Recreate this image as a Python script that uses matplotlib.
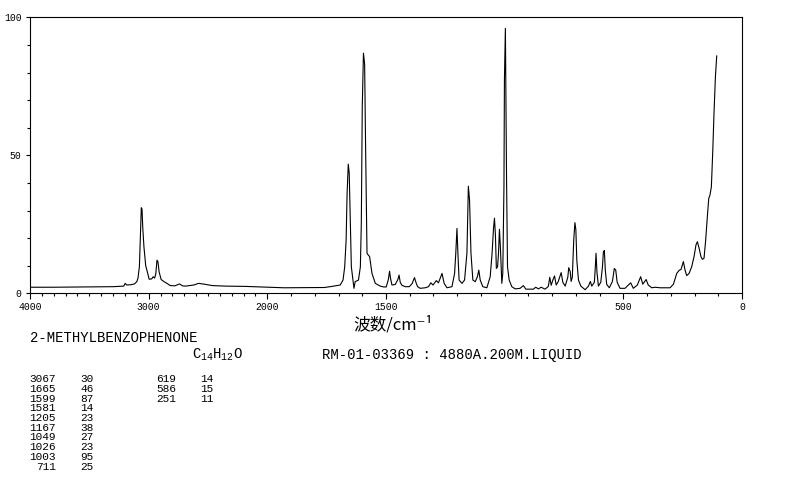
import numpy as np
import matplotlib
matplotlib.use('Agg')
import matplotlib.pyplot as plt

plt.rcParams['mathtext.fontset'] = 'custom'
plt.rcParams['mathtext.rm'] = 'Liberation Mono'
plt.rcParams['mathtext.it'] = 'Liberation Mono'

# spectrum: wavenumber (cm-1) and intensity
wavenumber = [4000, 3800, 3500, 3300, 3210, 3198, 3185, 3150, 3120, 3100,
              3090, 3078, 3069, 3062, 3056, 3050, 3040, 3025, 3015, 2996,
              2975, 2962, 2950, 2940, 2930, 2922, 2912, 2895, 2870, 2846,
              2819, 2780, 2740, 2715, 2690, 2620, 2580, 2530, 2465, 2350,
              2186, 2000, 1930, 1760, 1735, 1693, 1681, 1674, 1668, 1664,
              1659, 1655, 1650, 1646, 1639, 1635, 1630, 1616, 1608, 1604,
              1600, 1595, 1590, 1586, 1580, 1576, 1569, 1559, 1545, 1524,
              1510, 1499, 1490, 1485, 1481, 1475, 1461, 1450, 1445, 1440,
              1433, 1419, 1402, 1390, 1380, 1374, 1367, 1356, 1335, 1321,
              1311, 1302, 1288, 1279, 1264, 1255, 1243, 1222, 1211, 1206,
              1201, 1197, 1192, 1180, 1169, 1159, 1153, 1148, 1142, 1134,
              1124, 1115, 1109, 1103, 1092, 1075, 1061, 1053, 1047, 1043,
              1039, 1035, 1030, 1026, 1022, 1018, 1012, 1008, 1003, 1001,
              997, 992, 988, 981, 970, 956, 935, 921, 911, 879,
              869, 858, 846, 830, 816, 810, 804, 797, 790, 783,
              774, 762, 755, 745, 734, 730, 724, 720, 715, 709,
              704, 700, 696, 689, 679, 661, 647, 639, 633, 622,
              618, 615, 611, 605, 595, 588, 584, 580, 576, 570,
              559, 546, 538, 532, 526, 514, 493, 479, 469, 458,
              441, 427, 418, 404, 395, 380, 366, 345, 303, 289,
              275, 264, 257, 247, 240, 233, 223, 212, 202, 194,
              188, 181, 173, 167, 160, 153, 146, 140, 135, 129,
              123, 118, 112, 106.5]
intensity = [2.2, 2.2, 2.3, 2.4, 2.6, 3.6, 3.0, 3.1, 3.4, 4.2,
             5.5, 9.7, 21.8, 31.0, 30.5, 24.0, 16.9, 10.0, 8.4, 5.1,
             5.2, 6.0, 5.5, 7.0, 12.0, 11.5, 7.8, 5.0, 4.2, 3.6,
             2.8, 2.7, 3.4, 2.7, 2.6, 3.0, 3.6, 3.3, 2.8, 2.6,
             2.5, 2.2, 2.0, 2.1, 2.4, 3.0, 4.8, 9.6, 19.3, 36.0,
             46.8, 43.6, 24.0, 9.6, 4.8, 1.8, 4.2, 4.8, 9.6, 25.4,
             67.6, 87.0, 83.0, 53.0, 14.5, 14.0, 13.3, 7.2, 3.6, 2.6,
             2.3, 2.3, 5.0, 8.0, 5.5, 3.0, 3.2, 5.0, 6.6, 4.0,
             2.9, 2.4, 2.4, 3.5, 5.7, 4.0, 2.4, 1.8, 2.0, 2.4,
             3.8, 3.0, 4.6, 3.8, 7.2, 3.6, 2.0, 2.4, 7.2, 14.5,
             23.5, 14.5, 4.8, 3.6, 4.8, 14.5, 38.8, 33.8, 14.5, 4.8,
             4.2, 6.0, 8.4, 4.8, 2.4, 2.0, 6.0, 14.5, 23.5, 27.2,
             21.2, 9.0, 9.6, 14.5, 23.2, 16.7, 3.6, 7.2, 38.6, 77.3,
             96.0, 41.0, 9.6, 4.8, 2.4, 1.6, 1.8, 2.8, 1.5, 1.5,
             2.2, 1.6, 2.2, 1.5, 2.5, 5.8, 2.9, 4.8, 6.3, 3.0,
             4.3, 7.5, 4.0, 2.6, 5.8, 9.3, 7.9, 4.3, 5.8, 19.3,
             25.6, 23.0, 12.0, 4.8, 2.6, 1.3, 2.6, 4.3, 2.6, 4.0,
             9.6, 14.5, 7.5, 2.6, 4.0, 9.6, 15.0, 15.5, 8.4, 3.2,
             2.0, 4.3, 9.0, 8.4, 4.0, 1.8, 1.8, 3.0, 3.8, 1.8,
             3.0, 6.0, 3.3, 5.0, 3.0, 2.0, 2.2, 2.0, 2.0, 3.3,
             7.2, 8.4, 8.6, 11.5, 8.4, 6.4, 7.2, 9.6, 13.3, 17.5,
             18.7, 16.4, 13.3, 12.3, 12.7, 19.3, 27.8, 34.4, 35.6, 38.6,
             52.0, 65.2, 78.5, 86.0]

x_ticks = [4000, 3000, 2000, 1500, 500, 0]
x_labels = ['4000', '3000', '2000', '1500', '500', '0']

peak_wn = ['3067', '1665', '1599', '1581', '1205', '1167', '1049', '1026', '1003', '711']
peak_int = ['30', '46', '87', '14', '23', '38', '27', '23', '95', '25']
peak_wn2 = ['619', '586', '251']
peak_int2 = ['14', '15', '11']


def fwd(w):
    w = np.asarray(w, dtype=float)
    return np.where(w > 2000, 2000 + (w - 2000) / 2, w)


def inv(u):
    u = np.asarray(u, dtype=float)
    return np.where(u > 2000, 2000 + (u - 2000) * 2, u)


W, H = 794, 482
fig = plt.figure(figsize=(W / 100, H / 100), dpi=100)
ax = fig.add_axes([30 / W, 1 - 293.3 / H, 712 / W, 276 / H])

ax.plot(wavenumber, intensity, color='black', lw=0.8)

ax.set_xscale('function', functions=(fwd, inv))
ax.set_xlim(4000, 0)
ax.set_ylim(0, 100)

ax.set_xticks(x_ticks)
ax.set_xticklabels(x_labels)
ax.set_xticks(np.arange(0, 4001, 100), minor=True)
ax.set_yticks([0, 50, 100])
ax.set_yticks(np.arange(0, 101, 10), minor=True)

mono = 'Liberation Mono'
ax.tick_params(axis='x', which='major', length=4.5, width=0.8, pad=1.5,
               labelsize=7, direction='out')
ax.tick_params(axis='x', which='minor', length=2, width=0.8, direction='out')
ax.tick_params(axis='y', which='major', length=3, width=0.8, pad=3,
               labelsize=7, direction='out')
ax.tick_params(axis='y', which='minor', length=2, width=0.8, direction='out')
for lab in ax.get_xticklabels() + ax.get_yticklabels():
    lab.set_family(mono)
for s in ax.spines.values():
    s.set_linewidth(0.8)


def ftext(x, y, s, **kw):
    fig.text(x / W, 1 - y / H, s, **kw)


ftext(393, 325, '波数/cm⁻¹', ha='center', va='center', fontsize=12,
      family=['Noto Sans CJK SC', 'DejaVu Sans'])
ftext(30, 338, '2-METHYLBENZOPHENONE', ha='left', va='center', fontsize=10, family=mono)
ftext(192, 355, 'C$_{14}$H$_{12}$O', ha='left', va='center', fontsize=10, family=mono)
ftext(322, 355, 'RM-01-03369 : 4880A.200M.LIQUID', ha='left', va='center',
      fontsize=10, family=mono)

row_h = 9.75
for i in range(len(peak_wn)):
    y = 379 + i * row_h
    ftext(56, y, peak_wn[i], ha='right', va='center', fontsize=8, family=mono)
    ftext(80, y, peak_int[i], ha='left', va='center', fontsize=8, family=mono)
for i in range(len(peak_wn2)):
    y = 379 + i * row_h
    ftext(176, y, peak_wn2[i], ha='right', va='center', fontsize=8, family=mono)
    ftext(200, y, peak_int2[i], ha='left', va='center', fontsize=8, family=mono)

fig.savefig('out.png', dpi=100)
